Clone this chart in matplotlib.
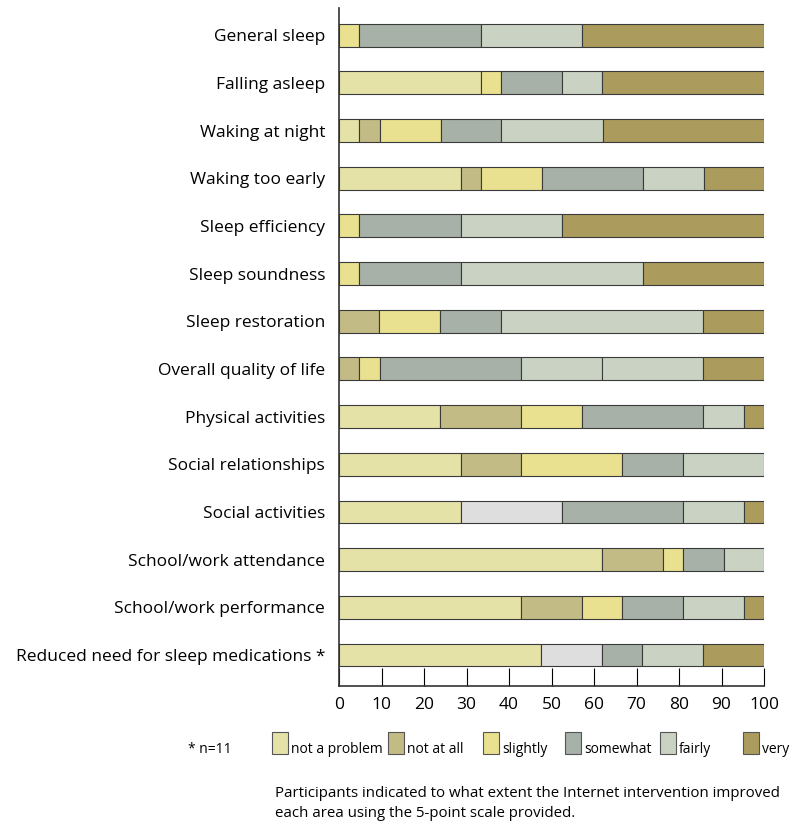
import matplotlib.pyplot as plt
from matplotlib.patches import Rectangle

plt.rcParams['font.family'] = ['Open Sans', 'DejaVu Sans']

# areas rated (top to bottom)
areas = ["General sleep", "Falling asleep", "Waking at night", "Waking too early",
         "Sleep efficiency", "Sleep soundness", "Sleep restoration",
         "Overall quality of life", "Physical activities", "Social relationships",
         "Social activities", "School/work attendance", "School/work performance",
         "Reduced need for sleep medications *"]

# percent of participants, in stacking order
not_a_problem = [0, 33.3, 4.8, 28.6, 0, 0, 0, 0, 23.8, 28.6, 28.6, 61.9, 42.9, 47.6]
not_at_all    = [0, 0, 4.8, 4.8, 0, 0, 9.5, 4.8, 19.0, 14.3, 0, 14.3, 14.3, 0]
slightly      = [4.8, 4.8, 14.3, 14.3, 4.8, 4.8, 14.3, 4.8, 14.3, 23.8, 0, 4.8, 9.5, 0]
no_rating     = [0, 0, 0, 0, 0, 0, 0, 0, 0, 0, 23.8, 0, 0, 14.3]
somewhat      = [28.6, 14.3, 14.3, 23.8, 23.8, 23.8, 14.3, 33.3, 28.6, 14.3, 28.6, 9.5, 14.3, 9.5]
fairly        = [23.8, 9.5, 23.8, 14.3, 23.8, 42.9, 47.6, 19.0, 9.5, 19.0, 14.3, 9.5, 14.3, 14.3]
fairly_2      = [0, 0, 0, 0, 0, 0, 0, 23.8, 0, 0, 0, 0, 0, 0]
very          = [42.9, 38.1, 38.1, 14.3, 47.6, 28.6, 14.3, 14.3, 4.8, 0, 4.8, 0, 4.8, 14.3]

legend_labels = ["not a problem", "not at all", "slightly", "somewhat", "fairly", "very"]

c_nap = '#e5e2a8'
c_nal = '#c3bb85'
c_sli = '#e9e18f'
c_grey = '#dedede'
c_some = '#a7b1a8'
c_fair = '#cad3c3'
c_very = '#ab9b5c'

series = [(not_a_problem, c_nap), (not_at_all, c_nal), (slightly, c_sli),
          (no_rating, c_grey), (somewhat, c_some), (fairly, c_fair),
          (fairly_2, c_fair), (very, c_very)]

fig = plt.figure(figsize=(8, 8.31), dpi=100)
ax = fig.add_axes([339/800, 1 - 686/831, 425/800, 678/831])

ypos = list(range(len(areas)))
left = [0.0] * len(areas)
for vals, col in series:
    for i, v in enumerate(vals):
        if v > 0:
            ax.barh(ypos[i], v, left=left[i], height=0.48, color=col,
                    edgecolor='#3a3a3a', linewidth=0.8)
            left[i] += v

ax.set_xlim(0, 100)
ax.set_ylim(13.65, -0.57)
ax.set_yticks(ypos)
ax.set_yticklabels(areas, fontsize=12.5)
ax.tick_params(axis='y', length=0, pad=10)
ax.set_xticks(range(0, 101, 10))
ax.tick_params(axis='x', direction='in', length=13, width=0.8, labelsize=12.5, pad=8)
for s in ['top', 'right']:
    ax.spines[s].set_visible(False)
for s in ['left', 'bottom']:
    ax.spines[s].set_color('#333333')
    ax.spines[s].set_linewidth(1.2)

# legend drawn by hand under the axis
W, H = 800, 831
legend_colors = [c_nap, c_nal, c_sli, c_some, c_fair, c_very]
patch_x = [272, 388, 483, 565, 660, 743]
for x, col, lab in zip(patch_x, legend_colors, legend_labels):
    fig.add_artist(Rectangle((x / W, 1 - 754 / H), 16 / W, 22 / H,
                             transform=fig.transFigure, facecolor=col,
                             edgecolor='#555555', linewidth=0.8))
    fig.text((x + 19) / W, 1 - 753 / H, lab, fontsize=10, va='baseline')
fig.text(188 / W, 1 - 753 / H, "* n=11", fontsize=10, va='baseline')

fig.text(275 / W, 1 - 797 / H,
         "Participants indicated to what extent the Internet intervention improved",
         fontsize=10.8, va='baseline')
fig.text(275 / W, 1 - 817 / H, "each area using the 5-point scale provided.",
         fontsize=10.8, va='baseline')

fig.savefig('out.png', dpi=100)
